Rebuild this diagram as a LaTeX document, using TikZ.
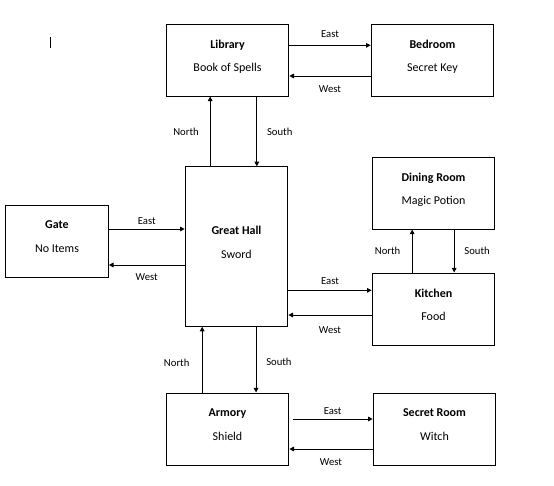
\documentclass[tikz,border=0pt]{standalone}
\usepackage{fontspec}
\setmainfont{Carlito}
\usetikzlibrary{arrows.meta,positioning}

\begin{document}
\begin{tikzpicture}[x=0.75pt,y=-0.75pt,
  room/.style={draw,line width=0.75pt,minimum width=92pt,minimum height=54pt,align=center,
    font=\fontsize{9}{17.5}\selectfont,execute at end node={\rule[-6.5pt]{0pt}{0pt}}},
  go/.style={line width=0.75pt,-{Triangle[length=3.5pt,width=3.5pt]}},
  dir/.style={font=\fontsize{8}{10}\selectfont,inner sep=2pt},
]
  \useasboundingbox (0,0) rectangle (554,486);
  \draw[line width=0.6pt] (50,37) -- (50,48);

  \node[room] (lib) at (227.5,60) {\textbf{Library}\\Book of Spells};
  \node[room] (bed) at (432.5,60) {\textbf{Bedroom}\\Secret Key};
  \node[room,minimum width=77pt,minimum height=119.5pt] (hall) at (236.5,246.5) {\textbf{Great Hall}\\Sword};
  \node[room,minimum width=77pt] (gate) at (57,241) {\textbf{Gate}\\No Items};
  \node[room] (dine) at (433.5,193) {\textbf{Dining Room}\\Magic Potion};
  \node[room] (kitch) at (433.5,309) {\textbf{Kitchen}\\Food};
  \node[room] (arm) at (227.5,429) {\textbf{Armory}\\Shield};
  \node[room] (secret) at (434.5,429) {\textbf{Secret Room}\\Witch};

  \draw[go] ([yshift=11pt]lib.east) -- node[dir,above=3.3pt] {East} ([yshift=11pt]bed.west);
  \draw[go] ([yshift=-12pt]bed.west) -- node[dir,below=4.6pt] {West} ([yshift=-12pt]lib.east);

  \draw[go] ([xshift=-13pt]lib.south |- hall.north) -- node[dir,left=6.2pt] {North} ([xshift=-13pt]lib.south);
  \draw[go] ([xshift=22pt]lib.south) -- node[dir,right=5.3pt] {South} ([xshift=22pt]lib.south |- hall.north);

  \draw[go] ([yshift=9pt]gate.east) -- node[dir,above=0.9pt] {East} ([yshift=9pt]gate.east -| hall.west);
  \draw[go] ([yshift=-18pt]gate.east -| hall.west) -- node[dir,below=4pt] {West} ([yshift=-18pt]gate.east);

  \draw[go] ([yshift=14pt]kitch.west -| hall.east) -- node[dir,above=1.9pt] {East} ([yshift=14pt]kitch.west);
  \draw[go] ([yshift=-4.5pt]kitch.west) -- node[dir,below=6.4pt] {West} ([yshift=-4.5pt]kitch.west -| hall.east);

  \draw[go] ([xshift=-16pt]kitch.north) -- node[dir,left=6.5pt] {North} ([xshift=-16pt]kitch.north |- dine.south);
  \draw[go] ([xshift=15.5pt]kitch.north |- dine.south) -- node[dir,right=5.3pt] {South} ([xshift=15.5pt]kitch.north);

  \draw[go] ([xshift=-19pt]arm.north) -- node[dir,left=7.2pt,pos=0.45] {North} ([xshift=-19pt]arm.north |- hall.south);
  \draw[go] ([xshift=21.4pt]arm.north |- hall.south) -- node[dir,right=5.3pt,pos=0.54] {South} ([xshift=21.4pt]arm.north);

  \draw[go] ([xshift=2.5pt,yshift=7.5pt]arm.east) -- node[dir,above=0.9pt] {East} ([yshift=7.5pt]arm.east -| secret.west);
  \draw[go] ([yshift=-15pt]arm.east -| secret.west) -- node[dir,below=4.6pt] {West} ([yshift=-15pt]arm.east);
\end{tikzpicture}
\end{document}
